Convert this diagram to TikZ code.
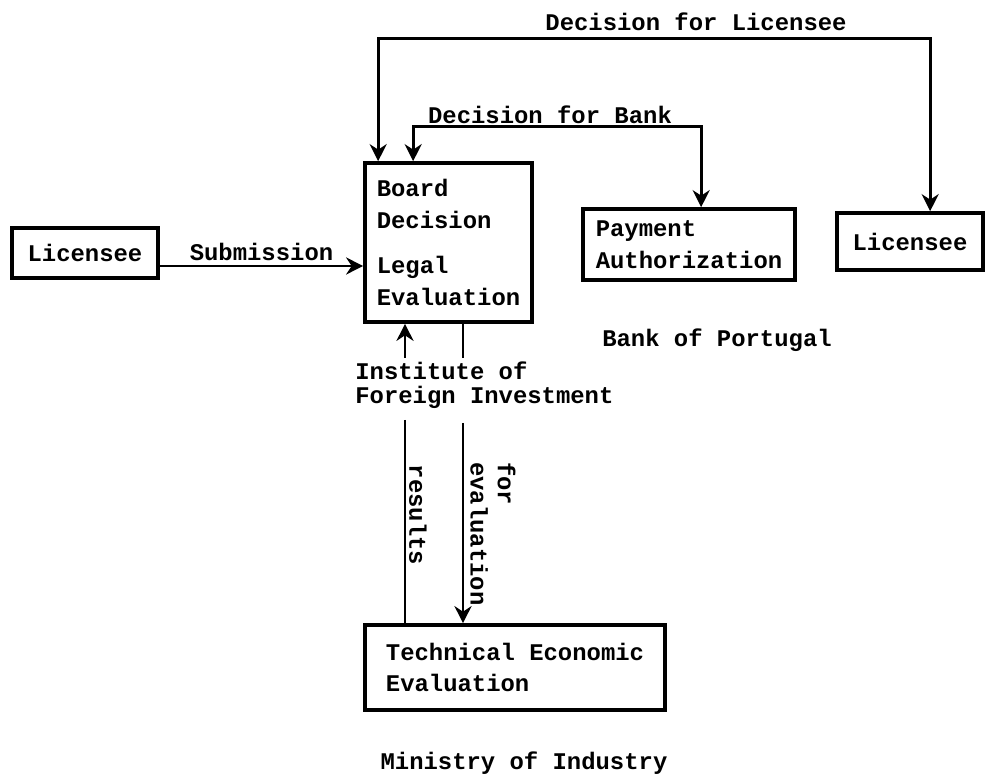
\documentclass[tikz,border=0pt]{standalone}
\usepackage{fontspec}
\setmainfont{Liberation Mono}
\usetikzlibrary{arrows.meta,calc}
\tikzset{
  box/.style={draw, line width=2.1pt, inner sep=0pt, align=left},
  conn/.style={line width=1.7pt},
  arr/.style={conn, -{Stealth[length=0.34cm,width=0.34cm]}},
  darr/.style={conn, {Stealth[length=0.34cm,width=0.34cm]}-{Stealth[length=0.34cm,width=0.34cm]}},
  lbl/.style={inner sep=0pt, align=left},
  every node/.style={font=\fontsize{13.6pt}{18pt}\selectfont\bfseries}
}
\begin{document}
\begin{tikzpicture}[x=0.02cm,y=-0.02cm]
\useasboundingbox (0,0) rectangle (988,776);
% boxes
\node[box, minimum width=146*0.02cm, minimum height=50*0.02cm] (lic1) at (85,253) {Licensee};
\node[box, minimum width=167*0.02cm, minimum height=159*0.02cm] (board) at (448.5,242.5)
  {Board\\Decision\\[0.28cm]Legal\\Evaluation};
\node[box, minimum width=212*0.02cm, minimum height=71*0.02cm] (pay) at (689,244.5)
  {Payment\\Authorization};
\node[box, minimum width=146*0.02cm, minimum height=57*0.02cm] (lic2) at (910,241.5) {Licensee};
\node[box, minimum width=300*0.02cm, minimum height=85*0.02cm] (tech) at (515,667.5)
  {Technical Economic\\Evaluation};
% labels
\node[lbl] (dfl) at (696,22) {Decision for Licensee};
\node[lbl] (dfb) at (550,115) {Decision for Bank};
\node[lbl] (bop) at (717,340) {Bank of Portugal};
\node[lbl, anchor=west] (inst) at (355,385) {Institute of\\[-0.15cm]Foreign Investment};
\node[lbl] (moi) at (524,763) {Ministry of Industry};
\node[lbl, rotate=-90] (res) at (418,515) {results};
\node[lbl, rotate=-90] (fev) at (493,534) {for\\[-0.09cm]evaluation};
% helper coordinates
\coordinate (sy) at (0,266);
\coordinate (ax) at (405,0);
\coordinate (bx) at (463,0);
\coordinate (ia) at (405,358);
\coordinate (ib) at (463,358);
\coordinate (ic) at (405,420);
\coordinate (id) at (463,423);
% connectors
\draw[arr] (lic1.east |- sy) -- node[lbl, above=2pt] (sub) {Submission} (board.west |- sy);
\draw[darr] ($(board.north west)+(15,0)$) -- ++(0,-123) -| ($(lic2.north west)+(95,0)$);
\draw[darr] ($(board.north west)+(50,0)$) -- ++(0,-35) -| ($(pay.north west)+(120,0)$);
\draw[arr] (ia) -- (board.south -| ax);
\draw[conn] (board.south -| bx) -- (ib);
\draw[conn] (ic) -- (tech.north -| ax);
\draw[arr] (id) -- (tech.north -| bx);
\end{tikzpicture}
\end{document}
